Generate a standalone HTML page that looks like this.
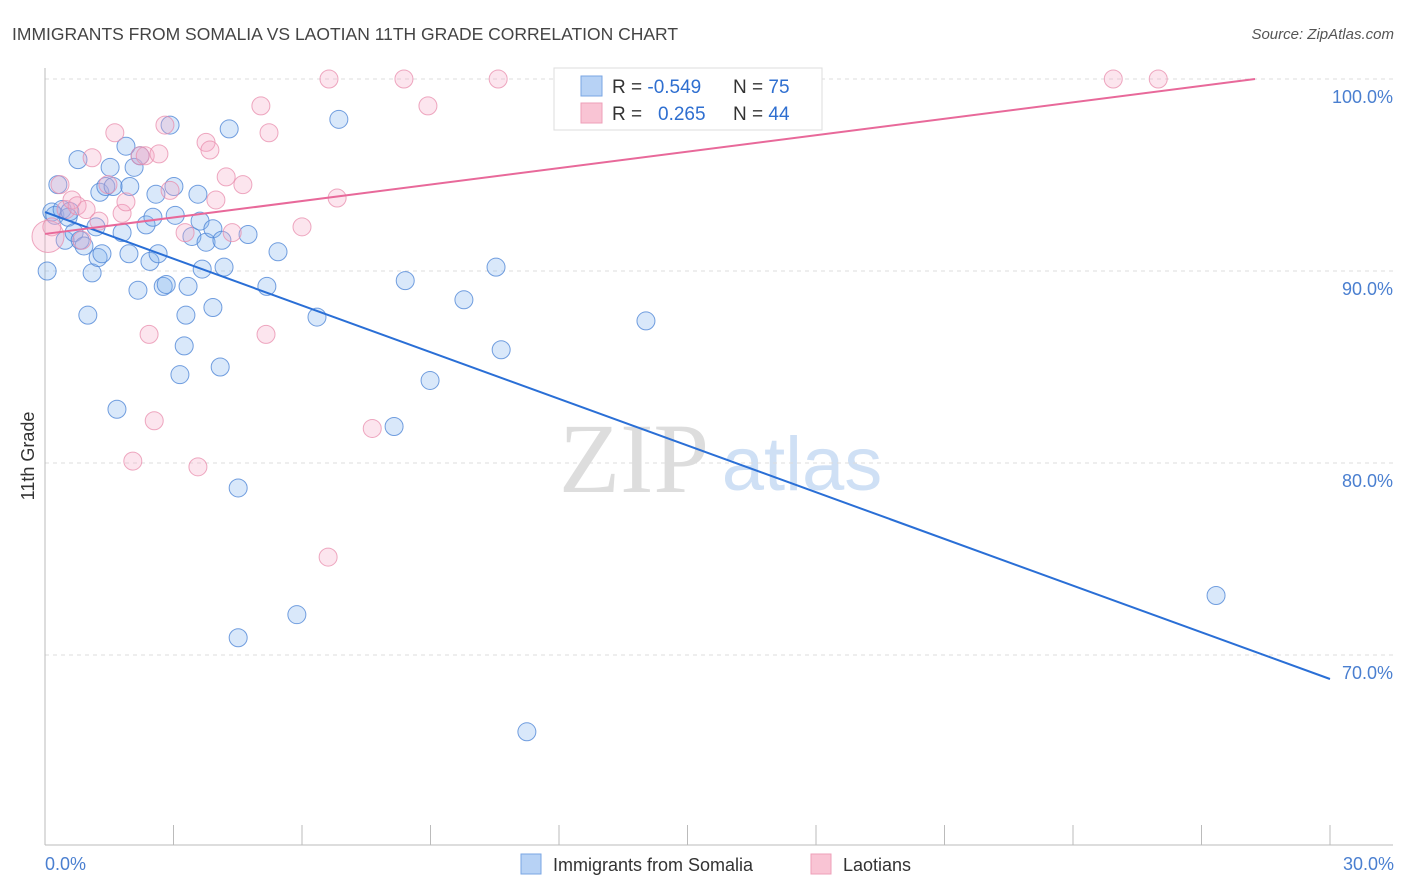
<!DOCTYPE html>
<html><head><meta charset="utf-8"><style>
body{margin:0;background:#fff;font-family:"Liberation Sans",sans-serif}
svg{display:block}
</style></head><body>
<svg id="chart" width="1406" height="892" xmlns="http://www.w3.org/2000/svg">
<text x="12" y="40" font-size="17.5" fill="#444">IMMIGRANTS FROM SOMALIA VS LAOTIAN 11TH GRADE CORRELATION CHART</text>
<text x="1394" y="39" font-size="15" fill="#555" font-style="italic" text-anchor="end">Source: ZipAtlas.com</text>
<text x="634" y="492" font-size="100" fill="#ddd" font-family="Liberation Serif" text-anchor="middle">ZIP</text>
<text x="802" y="490" font-size="76" fill="#cfe0f5" text-anchor="middle">atlas</text>
<g id="grid"></g>
<g id="axes"></g>
<g id="pts"></g>
<g id="lines"></g>
<text transform="translate(34,456) rotate(-90)" font-size="18" fill="#333" text-anchor="middle">11th Grade</text>
<text x="45" y="870" font-size="18" fill="#4a7fd0">0.0%</text>
<text x="1394" y="870" font-size="18" fill="#4a7fd0" text-anchor="end">30.0%</text>
<g>
<rect x="554" y="68" width="268" height="62" fill="#fff" stroke="#ddd"/>
<rect x="581" y="76" width="21" height="20" fill="#b7d2f5" stroke="#7aa6e3"/>
<rect x="581" y="103" width="21" height="20" fill="#f9c4d4" stroke="#ee9fb8"/>
<text x="612" y="93" font-size="19" fill="#333">R = <tspan fill="#2f6fd0">-0.549</tspan></text>
<text x="733" y="93" font-size="19" fill="#333">N = <tspan fill="#2f6fd0">75</tspan></text>
<text x="612" y="120" font-size="19" fill="#333">R = <tspan x="658" fill="#2f6fd0">0.265</tspan></text>
<text x="733" y="120" font-size="19" fill="#333">N = <tspan fill="#2f6fd0">44</tspan></text>
</g>
<g>
<rect x="521" y="854" width="20" height="20" fill="#b7d2f5" stroke="#7aa6e3"/>
<text x="553" y="871" font-size="18" fill="#333">Immigrants from Somalia</text>
<rect x="811" y="854" width="20" height="20" fill="#f9c4d4" stroke="#ee9fb8"/>
<text x="843" y="871" font-size="18" fill="#333">Laotians</text>
</g>
</svg>
<script>
const yTicks=[100,90,80,70];
const yTickLabels=["100.0%","90.0%","80.0%","70.0%"];
const xTicks=[0,3,6,9,12,15,18,21,24,27,30];
const somaliaX=[0.05,0.16,0.23,0.30,0.40,0.47,0.54,0.58,0.68,0.77,0.82,0.91,1.00,1.10,1.19,1.24,1.33,1.28,1.42,1.52,1.59,1.68,1.80,1.89,1.96,1.98,2.08,2.17,2.22,2.36,2.45,2.52,2.59,2.64,2.76,2.83,2.92,3.01,3.04,3.15,3.25,3.29,3.34,3.43,3.57,3.62,3.67,3.76,3.92,3.92,4.09,4.13,4.18,4.30,4.51,4.51,4.74,5.18,5.44,5.88,6.35,6.86,8.15,8.41,8.99,9.78,10.53,10.65,11.25,14.03,27.34];
const somaliaY=[90.0,93.07,92.9,94.5,93.2,91.6,92.8,93.1,92.0,95.8,91.6,91.3,87.7,89.9,92.3,90.7,90.9,94.1,94.4,95.4,94.4,82.8,92.0,96.5,90.9,94.4,95.4,89.0,96.0,92.4,90.5,92.8,94.0,90.9,89.2,89.3,97.6,94.4,92.9,84.6,86.1,87.7,89.2,91.8,94.0,92.6,90.1,91.5,92.2,88.1,85.0,91.6,90.2,97.4,78.7,70.9,91.9,89.2,91.0,72.1,87.6,97.9,81.9,89.5,84.3,88.5,90.2,85.9,66.0,87.4,73.1];
const laoX=[0.07,0.16,0.35,0.49,0.63,0.75,0.86,0.96,1.10,1.26,1.47,1.63,1.80,1.89,2.05,2.22,2.34,2.43,2.55,2.66,2.80,2.92,3.27,3.57,3.76,3.85,3.99,4.23,4.37,4.62,5.04,5.16,5.23,6.00,6.61,6.63,6.82,7.64,8.38,8.94,10.58,24.94,25.99];
const laoY=[91.8,92.3,94.5,93.2,93.7,93.4,91.6,93.2,95.9,92.6,94.5,97.2,93.0,93.6,80.1,96.0,96.0,86.7,82.2,96.1,97.6,94.2,92.0,79.8,96.7,96.3,93.7,94.9,92.0,94.5,98.6,86.7,97.2,92.3,75.1,100,93.8,81.8,100,98.6,100,100,100];
const somaliaTrend=[0,93.07,30,68.75];
const laoTrend=[0,91.93,28.25,100];
const NS="http://www.w3.org/2000/svg";
const xs=v=>45+v*(1285/30);
const ys=v=>79+(100-v)*19.2;
function mk(tag,attrs,parent){const e=document.createElementNS(NS,tag);for(const k in attrs)e.setAttribute(k,attrs[k]);document.getElementById(parent).appendChild(e);return e;}
yTicks.forEach((t,i)=>{
  const l=mk('line',{x1:45,x2:1393,y1:ys(t),y2:ys(t),stroke:'#ddd','stroke-dasharray':'4,4'},'grid');
  
  
  const tx=mk('text',{x:1393,y:ys(t)+24,'font-size':18,fill:'#4a7fd0','text-anchor':'end'},'grid');
  tx.textContent=yTickLabels[i];
  
  
});
const ya=mk('line',{x1:45,x2:45,y1:68,y2:845,stroke:'#bbb'},'axes');


const xa=mk('line',{x1:45,x2:1393,y1:845,y2:845,stroke:'#bbb'},'axes');


xTicks.forEach(t=>{
  const l=mk('line',{x1:xs(t),x2:xs(t),y1:825,y2:845,stroke:'#bbb'},'axes');
  
  
});
somaliaX.forEach((x,i)=>{
  const c=mk('circle',{cx:xs(x),cy:ys(somaliaY[i]),r:9,fill:'rgba(130,178,238,0.3)',stroke:'rgba(80,135,215,0.8)','stroke-width':1},'pts');
  
  
});
laoX.forEach((x,i)=>{
  const c=mk('circle',{cx:xs(x),cy:ys(laoY[i]),r:i===0?16:9,fill:'rgba(246,170,198,0.3)',stroke:'rgba(232,140,172,0.75)','stroke-width':1},'pts');
  
  
});
const bl=mk('line',{x1:xs(somaliaTrend[0]),y1:ys(somaliaTrend[1]),x2:xs(somaliaTrend[2]),y2:ys(somaliaTrend[3]),stroke:'#2a6fd6','stroke-width':2},'lines');


const pl=mk('line',{x1:xs(laoTrend[0]),y1:ys(laoTrend[1]),x2:xs(laoTrend[2]),y2:ys(laoTrend[3]),stroke:'#e8699a','stroke-width':2},'lines');


</script>
</body></html>
